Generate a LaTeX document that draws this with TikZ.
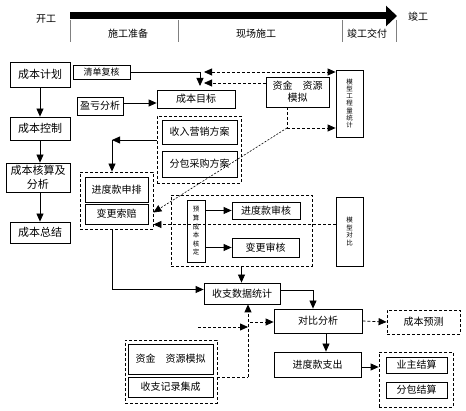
\documentclass[tikz,border=0pt]{standalone}
\usepackage{fontspec}
\setmainfont{Noto Sans CJK SC}
\usetikzlibrary{arrows.meta}

\begin{document}
\begin{tikzpicture}[x=1pt, y=-1pt, line width=0.8pt,
  >={Triangle[length=8pt,width=7pt]},
  every node/.style={inner sep=0pt, font=\fontsize{10}{12}\selectfont},
  blk/.style={draw, align=center},
  grp/.style={draw, dash pattern=on 3pt off 2pt},
  xu/.style={dash pattern=on 3pt off 2pt},
  vtxt/.style={blk, font=\fontsize{6.5}{7.3}\selectfont}]
        \useasboundingbox (0,0) rectangle (466,411);

        % 时间轴
        \coordinate (ks) at (70,16);
        \coordinate (jg) at (397,16);
        \draw[line width=7pt, -{Triangle[length=11pt,width=20pt]}] (ks) -- (jg);
        \foreach \x in {70,178,342,396}
            \draw[gray, line width=0.6pt] (\x,20) -- (\x,42);
        \node (kaigong) at (46,19) {开工};
        \node (jungong) at (418,17) {竣工};
        \node (zhunbei) at (128,34) {施工准备};
        \node (xianchang) at (256,34) {现场施工};
        \node (jiaofu) at (367,34) {竣工交付};

        % 左列
        \node[blk, minimum width=60pt, minimum height=25pt, font=\fontsize{11}{13}\selectfont] (jihua) at (40,74.5) {成本计划};
        \node[blk, minimum width=60pt, minimum height=23pt, font=\fontsize{11}{13}\selectfont] (kongzhi) at (40,128.5) {成本控制};
        \node[blk, minimum width=64pt, minimum height=29pt, font=\fontsize{11}{13.5}\selectfont] (hesuan) at (38,177.5) {成本核算及\\分析};
        \node[blk, minimum width=60pt, minimum height=21pt, font=\fontsize{11}{13}\selectfont] (zongjie) at (40,232.5) {成本总结};
        \draw[->] (jihua) -- (kongzhi);
        \draw[->] (kongzhi) -- (kongzhi |- hesuan.north);
        \draw[->] (kongzhi |- hesuan.south) -- (zongjie);

        % 上部
        \node[blk, minimum width=57pt, minimum height=14pt, font=\fontsize{9}{11}\selectfont] (qingdan) at (101.5,72) {清单复核};
        \node[blk, minimum width=46pt, minimum height=18pt] (yingkui) at (100,106) {盈亏分析};
        \node[blk, minimum width=78pt, minimum height=18pt] (mubiao) at (196,99) {成本目标};
        \node[blk, minimum width=63pt, minimum height=30pt] (zjmoni) at (297.5,92) {资金\hspace{1em}资源\\模拟};
        \node[vtxt, minimum width=27pt, minimum height=67pt] (gcl) at (349.5,103.5) {模\\型\\工\\程\\量\\统\\计};

        \coordinate (hj) at (200,72);
        \coordinate (hk) at (200,86);
        \coordinate (hr) at (204,83);
        \coordinate (hd) at (204,72);
        \draw (qingdan.east) -- (hj);
        \draw[->] (hj) -- (hk);
        \draw[xu, <->] (hd) -- (hd -| gcl.west);
        \draw[xu, ->] ([yshift=9pt]zjmoni.west) -- (hr);
        \draw[->] ([yshift=3pt]yingkui.east) -- ([yshift=3pt]yingkui.east -| mubiao.west);

        % 方案
        \node[grp, minimum width=84pt, minimum height=67pt] (grpA) at (199,149.5) {};
        \node[blk, minimum width=75pt, minimum height=24pt] (srfa) at (199.5,132) {收入营销方案};
        \node[blk, minimum width=75pt, minimum height=26pt] (fbfa) at (199.5,164) {分包采购方案};

        % 进度款申排
        \node[grp, minimum width=73pt, minimum height=57pt] (grpB) at (116.5,200.5) {};
        \node[blk, minimum width=63pt, minimum height=25pt] (jdsp) at (116.5,189.5) {进度款申排};
        \node[blk, minimum width=63pt, minimum height=20pt] (bgsp) at (116.5,214) {变更索赔};

        \coordinate (ab) at (112,140);
        \draw[->] ([yshift=9.5pt]grpA.west) -- (ab);
        \draw[->] (ab) -- (ab |- grpB.north);

        % 模拟
        \coordinate (zd) at (287,128);
        \draw[xu] ([xshift=-10.5pt]zjmoni.south) -- (zd);
        \draw[xu, ->] (zd) -- (zd -| gcl.west);
        \draw[dash pattern=on 2pt off 1.5pt, line width=0.6pt, ->] (zd) -- ([yshift=-12pt]grpB.east);

        % 审核
        \node[grp, minimum width=141pt, minimum height=71pt] (grpC) at (241.5,230.5) {};
        \node[vtxt, minimum width=18pt, minimum height=62pt, font=\fontsize{6.5}{8.6}\selectfont] (yshd) at (196,231) {预\\算\\成\\本\\核\\定};
        \node[blk, minimum width=68pt, minimum height=17pt] (jdsh) at (266,210.5) {进度款审核};
        \node[blk, minimum width=67pt, minimum height=19pt] (bgsh) at (265.5,247.5) {变更审核};
        \node[vtxt, minimum width=27pt, minimum height=69pt, font=\fontsize{6.5}{7.6}\selectfont] (mxdb) at (349.5,231.5) {模\\型\\对\\比};
        \draw[->] (yshd.east |- jdsh) -- (jdsh.west);
        \draw[->] (yshd.east |- bgsh) -- (bgsh.west);
        \draw[xu, ->] ([yshift=7pt]mxdb.west) -- ([yshift=7pt]mxdb.west -| grpB.east);

        % 收支
        \node[blk, minimum width=76pt, minimum height=21pt] (szsj) at (242,293.5) {收支数据统计};
        \node[blk, minimum width=88pt, minimum height=24pt] (dbfx) at (318,321) {对比分析};
        \node[grp, minimum width=73pt, minimum height=24pt] (cbyc) at (423.5,322) {成本预测};
        \node[blk, minimum width=87pt, minimum height=25pt] (jdzc) at (317.5,364.5) {进度款支出};
        \draw[->] (grpC.south) -- (grpC.south |- szsj.north);
        \draw[->] ([xshift=-4.5pt]grpB.south) |- ([yshift=4pt]szsj.west);
        \draw[->] ([yshift=3pt]szsj.east) -| ([xshift=-5pt]dbfx.north);
        \draw[xu, ->] (dbfx.east) -- (cbyc.west);
        \draw[->] ([xshift=8pt]dbfx.south) -- ([xshift=8pt]dbfx.south |- jdzc.north);

        % 结算
        \node[grp, minimum width=74pt, minimum height=55pt] (grpE) at (416,379.5) {};
        \node[blk, minimum width=61pt, minimum height=16pt] (yzjs) at (416.5,365) {业主结算};
        \node[blk, minimum width=61pt, minimum height=16pt] (fbjs) at (416.5,390) {分包结算};
        \draw[->] ([yshift=-2.5pt]jdzc.east) -- ([yshift=-2.5pt]jdzc.east -| grpE.west);

        % 资金模拟
        \node[grp, minimum width=92pt, minimum height=63pt] (grpD) at (171,371.5) {};
        \node[blk, minimum width=85pt, minimum height=30pt] (zjmn) at (170.5,359) {资金\hspace{1em}资源模拟};
        \node[blk, minimum width=85pt, minimum height=20pt] (szjl) at (170.5,387) {收支记录集成};

        \coordinate (dv) at (248,377);
        \coordinate (dm) at (250,322);
        \coordinate (dl) at (198,327);
        \draw[xu] (dv -| grpD.east) -- (dv);
        \draw[xu, ->] (dv) -- (dv |- szsj.south);
        \draw[xu, ->] (dm) -- (dm -| dbfx.west);
        \draw[xu, ->] (dl) -- (dl -| dv);
\end{tikzpicture}
\end{document}
